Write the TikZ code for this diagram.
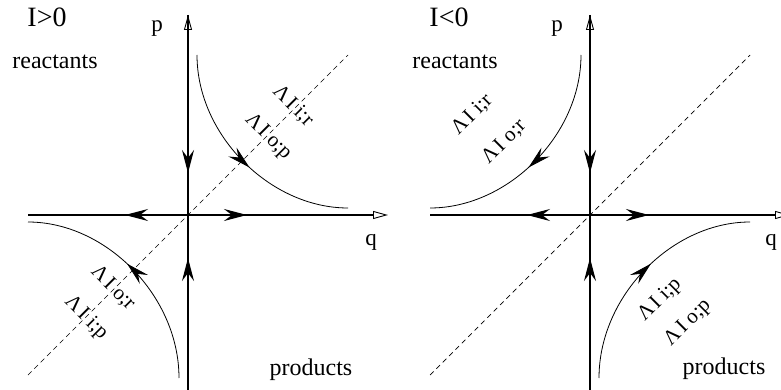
\documentclass[tikz,border=0pt]{standalone}
\usepackage{fontspec}
\setmainfont{Liberation Serif}
\usetikzlibrary{arrows.meta,decorations.markings}
\newcommand{\lam}[1]{Λ\kern0.12em I\kern0.25em #1}
\begin{document}
\begin{tikzpicture}[x=1pt,y=-1pt,
  axis/.style={line width=1.1pt, -{Triangle[open,length=15pt,width=8pt,line width=0.9pt]}},
  flow/.style={line width=1.1pt, -{Stealth[length=23pt,width=12pt,inset=8pt]}},
  traj/.style={line width=0.8pt},
  diag/.style={line width=0.7pt, dash pattern=on 5pt off 4pt},
  flowmark/.style={postaction={decorate}, decoration={markings, mark=at position #1 with {\arrow{Stealth[length=23pt,width=12pt,inset=8pt]}}}},
  lbl/.style={inner sep=0pt, font=\fontsize{21}{24}\selectfont},
  big/.style={inner sep=0pt, font=\fontsize{28}{30}\selectfont},
  txt/.style={inner sep=0pt, font=\fontsize{24}{26}\selectfont},
  ax/.style={inner sep=0pt, font=\fontsize{23}{25}\selectfont}
]
\useasboundingbox (0,0) rectangle (781,390);

% ---------------- left panel (I>0) ----------------
\coordinate (LO) at (188,215);
\coordinate (LvB) at (188,390);
\coordinate (LvT) at (188,15);
\coordinate (LhL) at (28,215);
\coordinate (LhR) at (388,215);
\coordinate (LtW) at (125,215);
\coordinate (LtE) at (247,215);
\coordinate (LtN) at (188,173);
\coordinate (LtS) at (188,258);
\coordinate (LdA) at (28,375);
\coordinate (LdB) at (348,55);
\coordinate (LuA) at (197,55);
\coordinate (LuB) at (348,208);
\coordinate (LlA) at (179,378);
\coordinate (LlB) at (28,222);

\draw[diag] (LdA) -- (LdB);
\draw[axis] (LvB) -- (LvT);
\draw[axis] (LhL) -- (LhR);
\draw[flow] (LO) -- (LtW);
\draw[flow] (LO) -- (LtE);
\draw[flow] (LvT) -- (LtN);
\draw[flow] (LvB) -- (LtS);
\draw[traj, flowmark=0.54] (LuA) .. controls (197,135) and (270,208) .. (LuB);
\draw[traj, flowmark=0.54] (LlA) .. controls (179,296) and (106,222) .. (LlB);

\node[big] (Lsign) at (47,17) {I>0};
\node[txt] (Lreac) at (55,62) {reactants};
\node[txt] (Lprod) at (311,370) {products};
\node[ax] (Lp) at (157,29) {p};
\node[ax] (Lq) at (371,242) {q};
\node[lbl, rotate=-45] (Lir) at (293,106) {\lam{i;r}};
\node[lbl, rotate=-45] (Lop) at (268,137) {\lam{o;p}};
\node[lbl, rotate=-45] (Lor) at (113,288) {\lam{o;r}};
\node[lbl, rotate=-45] (Lip) at (86,318) {\lam{i;p}};

% ---------------- right panel (I<0) ----------------
\coordinate (RO) at (590,215);
\coordinate (RvB) at (590,390);
\coordinate (RvT) at (590,15);
\coordinate (RhL) at (430,215);
\coordinate (RhR) at (790,215);
\coordinate (RtW) at (527,215);
\coordinate (RtE) at (649,215);
\coordinate (RtN) at (590,173);
\coordinate (RtS) at (590,258);
\coordinate (RdA) at (430,375);
\coordinate (RdB) at (750,55);
\coordinate (RuA) at (581,55);
\coordinate (RuB) at (430,208);
\coordinate (RlA) at (599,378);
\coordinate (RlB) at (750,222);

\draw[diag] (RdA) -- (RdB);
\draw[axis] (RvB) -- (RvT);
\draw[axis] (RhL) -- (RhR);
\draw[flow] (RO) -- (RtW);
\draw[flow] (RO) -- (RtE);
\draw[flow] (RvT) -- (RtN);
\draw[flow] (RvB) -- (RtS);
\draw[traj, flowmark=0.54] (RuA) .. controls (581,135) and (508,208) .. (RuB);
\draw[traj, flowmark=0.54] (RlA) .. controls (599,296) and (672,222) .. (RlB);

\node[big] (Rsign) at (449,17) {I<0};
\node[txt] (Rreac) at (455,62) {reactants};
\node[txt] (Rprod) at (724,369) {products};
\node[ax] (Rp) at (557,29) {p};
\node[ax] (Rq) at (771,242) {q};
\node[lbl, rotate=45] (Rir) at (472,115) {\lam{i;r}};
\node[lbl, rotate=45] (Ror) at (504,142) {\lam{o;r}};
\node[lbl, rotate=45] (Rip) at (660,300) {\lam{i;p}};
\node[lbl, rotate=45] (Rop) at (688,323) {\lam{o;p}};
\end{tikzpicture}
\end{document}
